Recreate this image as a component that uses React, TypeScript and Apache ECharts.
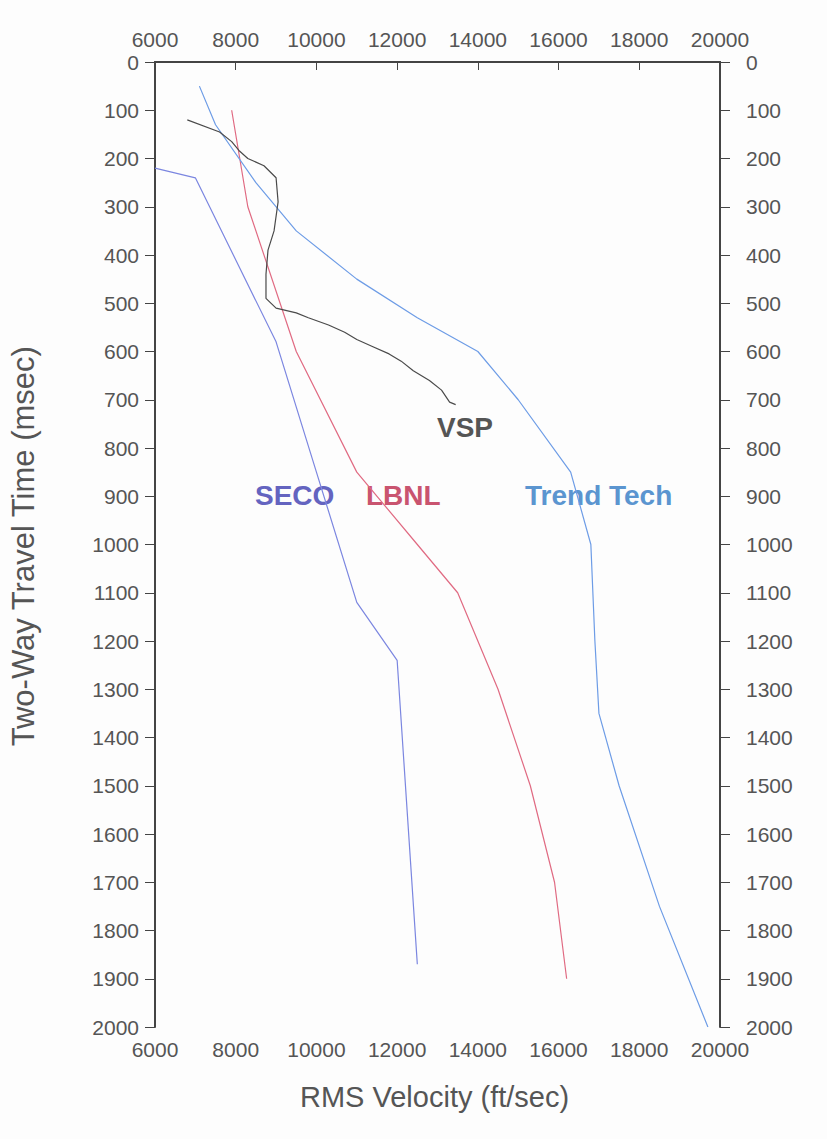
import { useEffect, useRef } from "react";
import * as echarts from "echarts";

const seco = [[6000, 220], [7000, 240], [9000, 580], [10000, 850], [11000, 1120], [12000, 1240], [12500, 1870]];
const lbnl = [[7900, 100], [8300, 300], [9500, 600], [11000, 850], [12500, 1000], [13500, 1100], [14500, 1300], [15300, 1500], [15900, 1700], [16200, 1900]];
const trend = [[7100, 50], [7500, 130], [8500, 250], [9500, 350], [11000, 450], [12500, 530], [14000, 600], [15000, 700], [16300, 850], [16800, 1000], [16900, 1200], [17000, 1350], [17500, 1500], [18500, 1750], [19700, 2000]];
const vsp = [[6800, 120], [7600, 145], [7900, 165], [8100, 185], [8300, 200], [8700, 215], [9000, 240], [9050, 290], [8950, 350], [8800, 390], [8750, 440], [8750, 490], [9000, 510], [9500, 520], [9800, 530], [10300, 545], [10700, 560], [11000, 575], [11400, 590], [11800, 605], [12100, 620], [12400, 640], [12800, 660], [13100, 680], [13300, 705], [13450, 710]];

const gray = "#555";
const lab = { color: gray, fontSize: 21, fontFamily: "Liberation Sans", formatter: (v: number) => String(v) };

export default function App() {
  const ref = useRef<HTMLDivElement | null>(null);
  useEffect(() => {
    if (!ref.current) return;
    const chart = echarts.init(ref.current, null, { renderer: "svg" });
    const xBase = { type: "value", min: 6000, max: 20000, interval: 2000, splitLine: { show: false }, axisLine: { lineStyle: { color: "#444", width: 2 } }, axisTick: { length: 8, lineStyle: { color: "#444" } } };
    const yBase = { type: "value", min: 0, max: 2000, interval: 100, inverse: true, splitLine: { show: false }, axisLine: { lineStyle: { color: "#444", width: 2 } }, axisTick: { length: 10, lineStyle: { color: "#444" } } };
    const line = (data: number[][], color: string) => ({ type: "line", data, showSymbol: false, lineStyle: { color, width: 1.2 }, silent: true });
    const txt = (x: number, y: number, text: string, fill: string) => ({ type: "text", left: x, top: y, style: { text, fill, fontSize: 28, fontWeight: "bold", fontFamily: "Liberation Sans" } });
    chart.setOption({
      animation: false,
      grid: { left: 155, right: 107, top: 62, bottom: 112 },
      xAxis: [
        { ...xBase, position: "bottom", axisLabel: { ...lab, margin: 12 } },
        { ...xBase, position: "top", axisTick: { ...xBase.axisTick, inside: true }, axisLabel: { ...lab, margin: 12 } },
      ],
      yAxis: [
        { ...yBase, position: "left", axisLabel: { ...lab, margin: 16 } },
        { ...yBase, position: "right", axisLabel: { ...lab, margin: 26 } },
      ],
      series: [line(seco, "#7b86e0"), line(lbnl, "#e06a82"), line(trend, "#6d9ce6"), line(vsp, "#4a4a4a")],
      graphic: [
        txt(437, 413, "VSP", "#555"),
        txt(255, 481, "SECO", "#6464c0"),
        txt(366, 481, "LBNL", "#c9546f"),
        txt(525, 481, "Trend Tech", "#5b95d0"),
        { type: "text", left: 300, top: 1082, style: { text: "RMS Velocity (ft/sec)", fill: gray, fontSize: 29, fontFamily: "Liberation Sans" } },
        { type: "text", left: 8, top: 345, rotation: Math.PI / 2, style: { text: "Two-Way Travel Time (msec)", fill: gray, fontSize: 31, fontFamily: "Liberation Sans" } },
      ],
    });
    return () => chart.dispose();
  }, []);
  return <div ref={ref} style={{ position: "absolute", left: 0, top: 0, width: 827, height: 1139, background: "#fdfdfd" }} />;
}
